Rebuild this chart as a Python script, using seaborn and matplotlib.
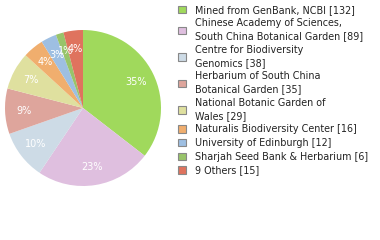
import matplotlib
matplotlib.use("Agg")
import matplotlib.pyplot as plt
import seaborn as sns

labels = ["Mined from GenBank, NCBI [132]",
          "Chinese Academy of Sciences,\nSouth China Botanical Garden [89]",
          "Centre for Biodiversity\nGenomics [38]",
          "Herbarium of South China\nBotanical Garden [35]",
          "National Botanic Garden of\nWales [29]",
          "Naturalis Biodiversity Center [16]",
          "University of Edinburgh [12]",
          "Sharjah Seed Bank & Herbarium [6]",
          "9 Others [15]"]
counts = [132, 89, 38, 35, 29, 16, 12, 6, 15]
colors = ["#a0d95c", "#dfbfdf", "#cddbe6", "#dea59c", "#dfe09f",
          "#f0ae6e", "#9ebfe2", "#98c46a", "#df735e"]

sns.set_style("white")
plt.rcParams['font.family'] = ['DejaVu Sans']
palette = sns.color_palette(colors)

fig = plt.figure(figsize=(3.8, 2.4), dpi=100)
ax = fig.add_axes([5/380, (240-108-78)/240, 156/380, 156/240])
wedges, texts, autotexts = ax.pie(counts, colors=palette, startangle=90, counterclock=False,
                                  autopct=lambda p: f"{int(p)}%", pctdistance=0.76,
                                  wedgeprops=dict(linewidth=0),
                                  textprops=dict(color="white", fontsize=7))
ax.set_xlim(-1, 1); ax.set_ylim(-1, 1)
ax.set_aspect("equal")

leg = fig.legend(wedges, labels, loc="upper left", bbox_to_anchor=(174/380, 1 - 1/240),
                 frameon=False, fontsize=6.9, handlelength=0.8, handleheight=0.8,
                 handletextpad=0.95, labelspacing=0.38, borderaxespad=0)
for h in leg.legend_handles:
    h.set_edgecolor("#888888")
    h.set_linewidth(0.8)
for t in leg.get_texts():
    t.set_color("#222222")
    t.set_linespacing(1.35)

fig.savefig("out.png", dpi=100)
